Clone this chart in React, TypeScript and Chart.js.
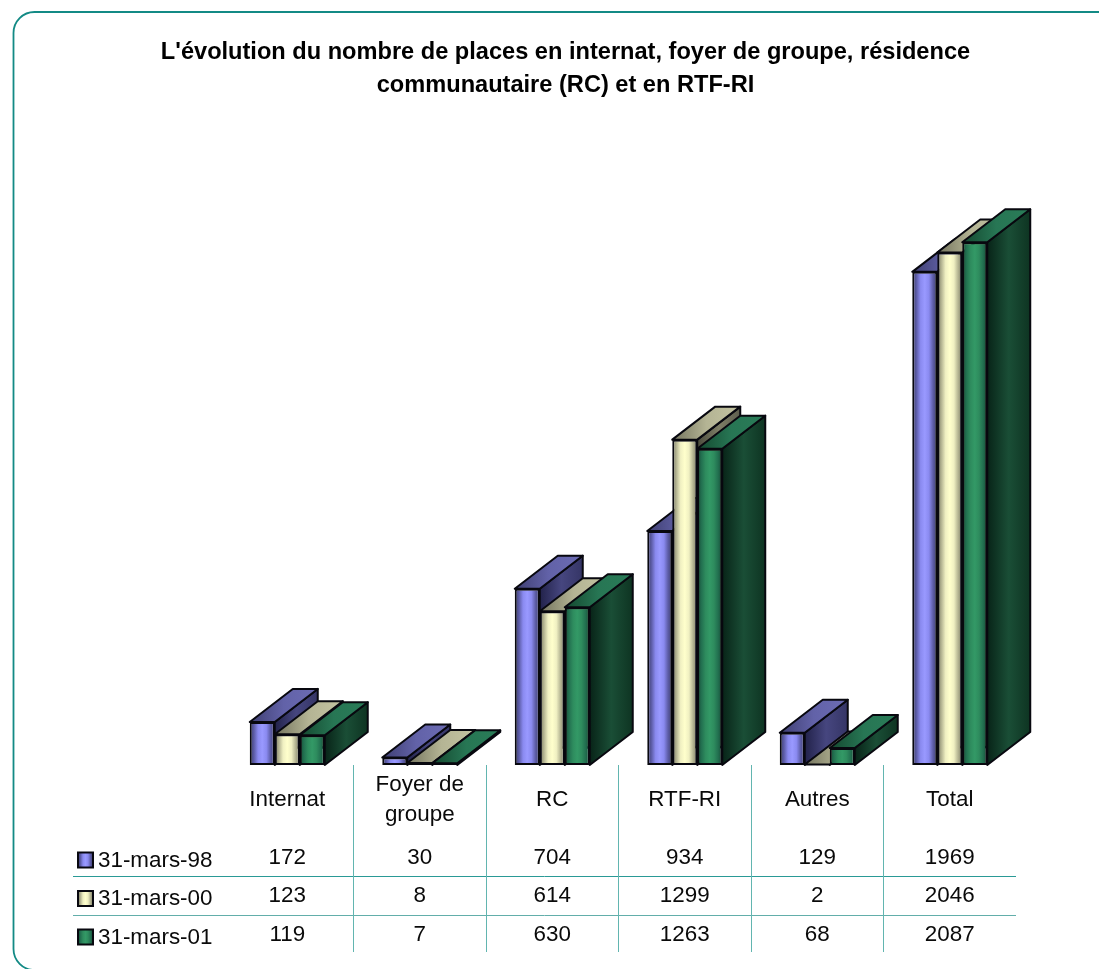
import React, { useEffect, useRef } from "react";
import { Chart, registerables } from "chart.js";

Chart.register(...registerables);

const titleLines = [
  "L'évolution du nombre de places en internat, foyer de groupe, résidence",
  "communautaire (RC) et en RTF-RI",
];
const categories = ["Internat", "Foyer de groupe", "RC", "RTF-RI", "Autres", "Total"];
const categoryLines = [["Internat"], ["Foyer de", "groupe"], ["RC"], ["RTF-RI"], ["Autres"], ["Total"]];
const seriesNames = ["31-mars-98", "31-mars-00", "31-mars-01"];
const values98 = [172, 30, 704, 934, 129, 1969];
const values00 = [123, 8, 614, 1299, 2, 2046];
const values01 = [119, 7, 630, 1263, 68, 2087];
const allValues = [values98, values00, values01];

const FONT = '"Liberation Sans", Arial, sans-serif';
const DX = 43;
const DY = -33;
const OUTLINE = "#08080f";
const LINE = 2;
const CAT_PCT = 0.566;

const palette = [
  {
    front: ["#3a3a68", "#5c5ca6", "#8a8af0", "#9999ff", "#8a8af0", "#5c5ca6", "#3e3e6e"],
    top: ["#3f3f72", "#6262a8", "#6c6cb4"],
    side: ["#22224a", "#46467f", "#353566"],
  },
  {
    front: ["#77775f", "#b4b492", "#f0f0c2", "#ffffcc", "#f0f0c2", "#b4b492", "#7c7c64"],
    top: ["#74745e", "#b4b494", "#c4c4a2"],
    side: ["#4a4a3c", "#7e7e66", "#5e5e4e"],
  },
  {
    front: ["#144a34", "#227050", "#2e8c5e", "#339966", "#2e8c5e", "#227050", "#144a34"],
    top: ["#14482f", "#277654", "#2a7c58"],
    side: ["#082418", "#1a4e36", "#0e3422"],
  },
];

function gradient(ctx: CanvasRenderingContext2D, x0: number, x1: number, stops: string[]) {
  const g = ctx.createLinearGradient(x0, 0, x1, 0);
  stops.forEach((c, i) => g.addColorStop(i / (stops.length - 1), c));
  return g;
}

function poly(ctx: CanvasRenderingContext2D, pts: number[][], fill: CanvasGradient) {
  ctx.beginPath();
  pts.forEach((p, i) => (i ? ctx.lineTo(p[0], p[1]) : ctx.moveTo(p[0], p[1])));
  ctx.closePath();
  ctx.fillStyle = fill;
  ctx.fill();
  ctx.stroke();
}

const extrusion = {
  id: "extrusion",
  beforeDatasetsDraw(chart: any) {
    const ctx: CanvasRenderingContext2D = chart.ctx;
    seriesNames.forEach((_, s) => {
      const meta = chart.getDatasetMeta(s);
      const colors = palette[s];
      ctx.save();
      ctx.lineWidth = LINE;
      ctx.lineJoin = "round";
      ctx.strokeStyle = OUTLINE;
      meta.data.forEach((bar: any) => {
        const l = bar.x - bar.width / 2;
        const r = bar.x + bar.width / 2;
        const t = bar.y;
        const b = bar.base;
        poly(ctx, [[r, t], [r + DX, t + DY], [r + DX, b + DY], [r, b]], gradient(ctx, r, r + DX, colors.side));
        poly(ctx, [[l, t], [l + DX, t + DY], [r + DX, t + DY], [r, t]], gradient(ctx, l, r + DX, colors.top));
      });
      ctx.restore();
      meta.controller.draw();
    });
    return false;
  },
};

const frame = {
  id: "frame",
  beforeDraw(chart: any) {
    const ctx: CanvasRenderingContext2D = chart.ctx;
    ctx.save();
    ctx.strokeStyle = "#138a85";
    ctx.lineWidth = 1.8;
    ctx.beginPath();
    ctx.roundRect(13.5, 12, 1120, 958, 21);
    ctx.stroke();

    ctx.fillStyle = "#000";
    ctx.font = `bold 23.6px ${FONT}`;
    ctx.textAlign = "center";
    ctx.textBaseline = "middle";
    titleLines.forEach((line, i) => ctx.fillText(line, 565.5, 52 + i * 33));
    ctx.restore();
  },
};

const dataTable = {
  id: "dataTable",
  afterDraw(chart: any) {
    const ctx: CanvasRenderingContext2D = chart.ctx;
    const xs = chart.scales.x;
    const { left, right, bottom } = chart.chartArea;
    const step = (right - left) / categories.length;
    ctx.save();

    ctx.lineWidth = 1;
    ctx.strokeStyle = "#2a9a96";
    ctx.beginPath();
    ctx.moveTo(73, 876.5);
    ctx.lineTo(right, 876.5);
    ctx.stroke();
    ctx.strokeStyle = "#62aeaa";
    ctx.beginPath();
    ctx.moveTo(73, 915.5);
    ctx.lineTo(right, 915.5);
    ctx.stroke();
    ctx.strokeStyle = "#62b5b0";
    for (let i = 1; i < categories.length; i++) {
      const x = Math.floor(left + i * step) + 0.5;
      ctx.beginPath();
      ctx.moveTo(x, bottom);
      ctx.lineTo(x, 952);
      ctx.stroke();
    }

    ctx.fillStyle = "#0a0a0a";
    ctx.font = `22.4px ${FONT}`;
    ctx.textAlign = "center";
    ctx.textBaseline = "middle";
    categoryLines.forEach((lines, i) => {
      const x = xs.getPixelForValue(i);
      const y0 = 800 - ((lines.length - 1) * 30) / 2;
      lines.forEach((line, j) => ctx.fillText(line, x, y0 + j * 30));
    });
    allValues.forEach((vals, r) => {
      vals.forEach((v, i) => ctx.fillText(String(v), xs.getPixelForValue(i), 858 + r * 38.3));
    });

    ctx.textAlign = "left";
    seriesNames.forEach((name, r) => {
      const y = 860.5 + r * 38.5;
      ctx.fillStyle = "#0a0a0a";
      ctx.fillText(name, 98, y);
      ctx.fillStyle = gradient(ctx, 78, 93, palette[r].front);
      ctx.strokeStyle = OUTLINE;
      ctx.lineWidth = 2;
      ctx.fillRect(78, y - 8, 15, 15);
      ctx.strokeRect(78, y - 8, 15, 15);
    });
    ctx.restore();
  },
};

export default function App() {
  const ref = useRef<HTMLCanvasElement>(null);
  useEffect(() => {
    const chart = new Chart(ref.current as HTMLCanvasElement, {
      type: "bar",
      data: {
        labels: categories,
        datasets: seriesNames.map((name, s) => ({
          label: name,
          data: allValues[s],
          categoryPercentage: CAT_PCT,
          barPercentage: 1,
          borderWidth: LINE,
          borderColor: OUTLINE,
          borderSkipped: false,
          backgroundColor: (c: any) => {
            const xs = c.chart.scales.x;
            if (!xs || c.dataIndex === undefined) return palette[s].front[3];
            const w = ((xs.right - xs.left) / categories.length) * (CAT_PCT / 3);
            const l = xs.getPixelForValue(c.dataIndex) + (s - 1.5) * w;
            if (!Number.isFinite(l) || !Number.isFinite(w)) return palette[s].front[3];
            return gradient(c.chart.ctx, l, l + w, palette[s].front);
          },
        })),
      },
      options: {
        responsive: false,
        animation: false,
        devicePixelRatio: 1,
        layout: { padding: { left: 221, right: 83, top: 214, bottom: 204 } },
        plugins: { legend: { display: false }, title: { display: false }, tooltip: { enabled: false } },
        scales: {
          x: { display: false },
          y: { display: false, min: 0, max: 2200 },
        },
      },
      plugins: [frame, extrusion, dataTable],
    } as any);
    return () => chart.destroy();
  }, []);
  return (
    <canvas
      ref={ref}
      width={1099}
      height={969}
      style={{ position: "absolute", left: 0, top: 0, display: "block" }}
    />
  );
}
